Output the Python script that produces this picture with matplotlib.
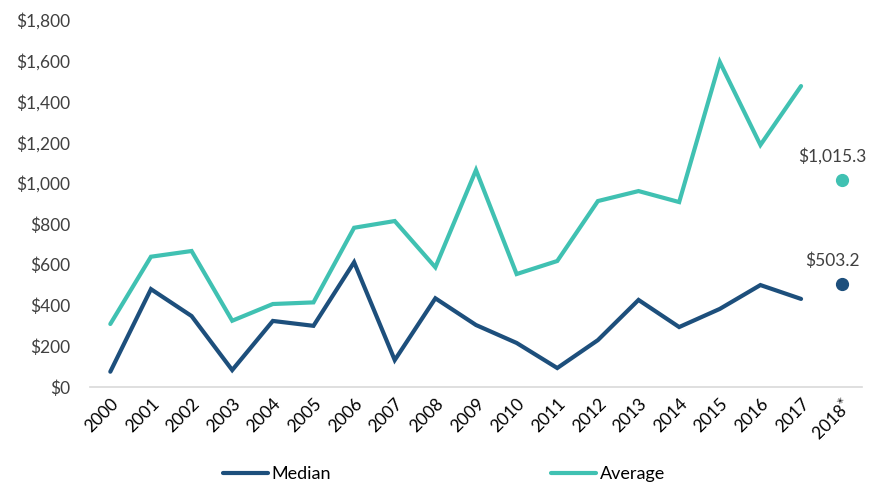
import matplotlib
matplotlib.use("Agg")
import matplotlib.pyplot as plt
import numpy as np

years = ["2000", "2001", "2002", "2003", "2004", "2005", "2006", "2007", "2008", "2009",
         "2010", "2011", "2012", "2013", "2014", "2015", "2016", "2017", "2018$^{*}$"]
median = [75, 480, 348, 83, 324, 300, 612, 132, 435, 304,
          216, 93, 230, 427, 294, 383, 500, 432]
average = [309, 639, 667, 325, 407, 415, 781, 814, 587, 1064,
           554, 618, 912, 961, 907, 1594, 1187, 1476]
median_2018 = 503.2
average_2018 = 1015.3
yticks = [0, 200, 400, 600, 800, 1000, 1200, 1400, 1600, 1800]

c_med = "#1D4F7C"
c_avg = "#40C1B2"
txt = "#404040"

plt.rcParams['font.family'] = ['Lato', 'DejaVu Sans']
plt.rcParams['mathtext.fontset'] = 'dejavusans'

fig = plt.figure(figsize=(8.78, 4.83), dpi=100)
ax = fig.add_axes([90/878, 1-387/483, 772/878, 367/483])

x = np.arange(len(median))
ax.plot(x, median, color=c_med, lw=3, solid_capstyle='round', solid_joinstyle='miter', label="Median")
ax.plot(x, average, color=c_avg, lw=3, solid_capstyle='round', solid_joinstyle='miter', label="Average")
ax.plot([18], [median_2018], 'o', color=c_med, ms=8.5)
ax.plot([18], [average_2018], 'o', color=c_avg, ms=8.5)
ax.annotate(f"${median_2018:,.1f}", (18, median_2018), xytext=(-7, 11), textcoords='offset points',
            ha='center', va='bottom', fontsize=12.5, color=txt)
ax.annotate(f"${average_2018:,.1f}", (18, average_2018), xytext=(-7, 11), textcoords='offset points',
            ha='center', va='bottom', fontsize=12.5, color=txt)

ax.set_xlim(-0.5, 18.5)
ax.set_ylim(0, 1800)
ax.set_yticks(yticks)
ax.set_yticklabels([f"${v:,}" for v in yticks], fontsize=12.5, color=txt)
ax.set_xticks(np.arange(len(years)))
ax.set_xticklabels(years, rotation=45, ha='right', rotation_mode='anchor', fontsize=12.5, color="#000000")
ax.tick_params(axis='both', length=0)
ax.tick_params(axis='y', pad=14)
ax.tick_params(axis='x', pad=6)
for s in ['top', 'right', 'left']:
    ax.spines[s].set_visible(False)
ax.spines['bottom'].set_color('#D9D9D9')
ax.spines['bottom'].set_linewidth(1.2)

fig.legend(handles=ax.lines[:2], labels=["Median", "Average"], loc='center',
           bbox_to_anchor=(444/878, 1-474/483), ncol=2, frameon=False, fontsize=13,
           handlelength=2.5, handletextpad=0.2, columnspacing=12.2, borderpad=0)

fig.savefig("out.png", dpi=100)
